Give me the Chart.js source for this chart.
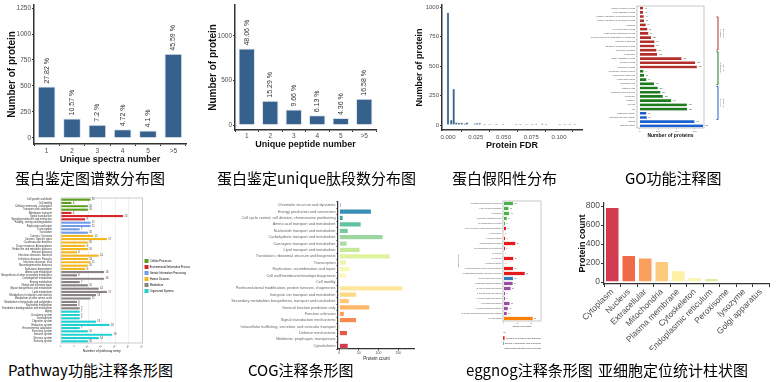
<!DOCTYPE html>
<html>
<head>
<meta charset="utf-8">
<title>蛋白组注释汇总</title>
<script src="https://cdn.jsdelivr.net/npm/chart.js@4.4.1/dist/chart.umd.min.js"></script>
<style>
html,body{margin:0;padding:0;background:#fff}
body{position:relative;width:777px;height:382px;overflow:hidden}
canvas{position:absolute}
.cap{position:absolute;font-family:"Noto Sans CJK SC","Noto Sans",sans-serif;font-size:15px;line-height:16px;color:#000;white-space:nowrap}
</style>
</head>
<body>
<canvas id="spectra" width="195" height="170" style="left:0;top:0"></canvas>
<canvas id="peptide" width="190" height="155" style="left:200px;top:0"></canvas>
<canvas id="fdr" width="197" height="155" style="left:390px;top:0"></canvas>
<canvas id="go" width="192" height="145" style="left:585px;top:0"></canvas>
<canvas id="pathway" width="200" height="164" style="left:0;top:190px"></canvas>
<canvas id="cog" width="215" height="172" style="left:200px;top:190px"></canvas>
<canvas id="eggnog" width="100" height="162" style="left:455px;top:190px"></canvas>
<canvas id="subcell" width="202" height="160" style="left:575px;top:190px"></canvas>

<div class="cap" style="left:15px;top:170px">蛋白鉴定图谱数分布图</div>
<div class="cap" style="left:217px;top:170px">蛋白鉴定unique肽段数分布图</div>
<div class="cap" style="left:452px;top:170px">蛋白假阳性分布</div>
<div class="cap" style="left:625px;top:170px">GO功能注释图</div>
<div class="cap" style="left:8px;top:362px">Pathway功能注释条形图</div>
<div class="cap" style="left:248px;top:362px">COG注释条形图</div>
<div class="cap" style="left:466px;top:362px">eggnog注释条形图</div>
<div class="cap" style="left:598px;top:362px">亚细胞定位统计柱状图</div>

<script>
// ---- 数据 ----
const 谱图类别 = ['1','2','3','4','5','>5']
const 谱图数量 = [494,188,128,84,73,810]
const 谱图比例 = ['27.82 %','10.57 %','7.2 %','4.72 %','4.1 %','45.59 %']
const 谱图刻度 = [0,250,500,750,1000,1250]

const 肽段类别 = ['1','2','3','4','5','>5']
const 肽段数量 = [859,273,173,110,78,296]
const 肽段比例 = ['48.06 %','15.29 %','9.66 %','6.13 %','4.36 %','16.58 %']
const 肽段刻度 = [0,500,1000]

const fdr值 = [0,0.003,0.0051,0.0075,0.0099,0.0123,0.015,0.0171,0.024,0.0261,0.0285,0.033,0.0375,0.0435,0.0495,0.0616,0.0652,0.0706,0.076,0.0796,0.085,0.0886,0.1006,0.1051,0.1096,0.1141]
const fdr数量 = [951,42,305,20,18,18,12,20,10,14,14,6,6,4,4,4,4,6,4,4,10,4,6,4,4,3]
const fdrY刻度 = [0,250,500,750,1000]
const fdrX刻度 = [0,0.025,0.05,0.075,0.1]

const go条目 = ['immune system process','multi-organism process','negative regulation of biological process','positive regulation of biological process','signaling','developmental process','multicellular organismal process','cellular component organization or biogenesis','response to stimulus','regulation of biological process','biological regulation','localization','single-organism process','cellular process','metabolic process','membrane-enclosed lumen','extracellular region part','extracellular region','membrane part','organelle part','macromolecular complex','membrane','organelle','cell part','cell','transporter activity','structural molecule activity','binding','catalytic activity']
const go数量 = [40,40,47,51,69,87,98,127,164,164,186,193,459,608,626,44,51,76,160,200,229,255,346,517,520,76,80,600,695]
const go组 = [0,0,0,0,0,0,0,0,0,0,0,0,0,0,0,1,1,1,1,1,1,1,1,1,1,2,2,2,2]
const go组名 = [['Biological','Process'],['Cellular','Component'],['Molecular','Function']]
const go颜色 = ['#b3302a','#1e7b1e','#1b60cf']
const go刻度 = [0,200,400,600]

const 通路类别 = ['Cell growth and death','Cell motility','Cellular community - eukaryotes','Transport and catabolism','Membrane transport','Signal transduction','Signaling molecules and interaction','Folding, sorting and degradation','Replication and repair','Transcription','Translation','Cancers: Overview','Cancers: Specific types','Cardiovascular diseases','Drug resistance: Antineoplastic','Endocrine and metabolic diseases','Immune diseases','Infectious diseases: Bacterial','Infectious diseases: Parasitic','Infectious diseases: Viral','Neurodegenerative diseases','Substance dependence','Amino acid metabolism','Biosynthesis of other secondary metabolites','Carbohydrate metabolism','Energy metabolism','Global and overview maps','Glycan biosynthesis and metabolism','Lipid metabolism','Metabolism of cofactors and vitamins','Metabolism of other amino acids','Metabolism of terpenoids and polyketides','Nucleotide metabolism','Xenobiotics biodegradation and metabolism','Aging','Circulatory system','Development','Digestive system','Endocrine system','Environmental adaptation','Excretory system','Immune system','Nervous system','Sensory system']
const 通路数量 = [11,4,10,10,4,23,9,11,11,7,10,12,17,10,9,10,6,14,10,11,10,9,16,6,16,7,10,14,17,13,11,6,6,7,7,7,7,13,18,7,10,19,14,10]
const 通路组 = [0,0,0,0,1,1,1,2,2,2,2,3,3,3,3,3,3,3,3,3,3,3,4,4,4,4,4,4,4,4,4,4,4,4,5,5,5,5,5,5,5,5,5,5]
const 通路组名 = ['Cellular Processes','Environmental Information Processing','Genetic Information Processing','Human Diseases','Metabolism','Organismal Systems']
const 通路颜色 = ['#5c9c1f','#d7262c','#6f9be8','#f2b61f','#8b8284','#20d0d0']

const cog类别 = ['Chromatin structure and dynamics','Energy production and conversion','Cell cycle control, cell division, chromosome partitioning','Amino acid transport and metabolism','Nucleotide transport and metabolism','Carbohydrate transport and metabolism','Coenzyme transport and metabolism','Lipid transport and metabolism','Translation, ribosomal structure and biogenesis','Transcription','Replication, recombination and repair','Cell wall/membrane/envelope biogenesis','Cell motility','Posttranslational modification, protein turnover, chaperones','Inorganic ion transport and metabolism','Secondary metabolites biosynthesis, transport and catabolism','General function prediction only','Function unknown','Signal transduction mechanisms','Intracellular trafficking, secretion, and vesicular transport','Defense mechanisms','Mobilome: prophages, transposons','Cytoskeleton']
const cog数量 = [5,82,10,56,23,112,20,53,130,19,28,19,2,162,44,26,78,13,44,3,21,2,23]
const cog颜色 = ['#6fa8d6','#3a8fb7','#3fa59d','#62c2a0','#78c8a2','#9bd6a0','#abdca2','#c5e89b','#dff29e','#ecf6a8','#f7fab2','#fdf8b6','#fff3b0','#fee79a','#fed985','#fdc776','#fdb566','#fb9e59','#f88a4f','#f27246','#e5574b','#dc4a4d','#d13d4f']
const cog刻度 = [0,50,100,150]

const egg类别 = ['[J] Translation, ribosomal structure and biogenesis','[A] RNA processing and modification','[K] Transcription','[L] Replication, recombination and repair','[B] Chromatin structure and dynamics','[D] Cell cycle control, cell division, chromosome partitioning','[Y] Nuclear structure','[V] Defense mechanisms','[T] Signal transduction mechanisms','[M] Cell wall/membrane/envelope biogenesis','[N] Cell motility','[Z] Cytoskeleton','[W] Extracellular structures','[U] Intracellular trafficking, secretion, and vesicular transport','[O] Posttranslational modification, protein turnover, chaperones','[C] Energy production and conversion','[G] Carbohydrate transport and metabolism','[E] Amino acid transport and metabolism','[F] Nucleotide transport and metabolism','[H] Coenzyme transport and metabolism','[I] Lipid transport and metabolism','[P] Inorganic ion transport and metabolism','[Q] Secondary metabolites biosynthesis, transport and catabolism','[S] Function unknown']
const egg数量 = [28,15,17,10,5,8,2,5,35,5,1,29,2,28,62,28,27,21,5,5,18,13,10,85]
const egg组 = [2,2,2,2,2,0,0,0,0,0,0,0,0,0,0,1,3,3,3,3,3,3,3,4]
const egg组名 = ['Cellular processes and signaling','Energy production and conversion','Information storage and processing','Metabolism','Poorly characterized']
const egg颜色 = ['#e41a1c','#377eb8','#4daf4a','#984ea3','#ff7f00']
const egg刻度 = [0,40,80]

const 亚细胞类别 = ['Cytoplasm','Nucleus','Extracellular','Mitochondria','Plasma membrane','Cytoskeleton','Endoplasmic reticulum','Peroxisome','lysozyme','Golgi apparatus']
const 亚细胞数量 = [790,285,258,222,125,52,42,12,0,0]
const 亚细胞颜色 = ['#d33c50','#ef6a47','#fb9f5e','#fdc97a','#fef0a4','#f7f7b3','#dbee9d','#a9dba6','#80c9a5','#5e9fc8']
const 亚细胞刻度 = [0,200,400,600,800]

// ---- 公共 ----
const 字体 = 'Arial, "Liberation Sans", Helvetica, sans-serif'
const 灰字 = '#4d4d4d'
const 轴线 = '#333333'
Chart.defaults.font.family = 字体
const 基础 = {responsive:false,animation:false,devicePixelRatio:1,plugins:{legend:{display:false},tooltip:{enabled:false}}}
const 定刻度 = vals => s => { s.ticks = vals.map(v=>({value:v})) }
const 原样 = v => String(v)

function 数值标签(texts, font, color, gap, rotate){
  return {id:'valueText', afterDatasetsDraw(chart){
    const ctx = chart.ctx
    ctx.save(); ctx.font = font; ctx.fillStyle = color; ctx.textBaseline = 'middle'; ctx.textAlign = 'left'
    chart.getDatasetMeta(0).data.forEach((el,i)=>{
      const t = texts[i]
      if(t===null||t===undefined) return
      if(rotate){ ctx.save(); ctx.translate(el.x, el.y-gap); ctx.rotate(-Math.PI/2); ctx.fillText(t,0,0); ctx.restore() }
      else ctx.fillText(t, el.x+gap, el.y)
    })
    ctx.restore()
  }}
}
const 边框 = color => ({id:'frame', beforeDatasetsDraw(chart){
  const a = chart.chartArea, ctx = chart.ctx
  ctx.save(); ctx.strokeStyle = color; ctx.lineWidth = 0.8; ctx.strokeRect(a.left, a.top, a.width, a.height); ctx.restore()
}})

function 竖轴线(tl){ return {grid:{display:true,drawOnChartArea:false,tickLength:tl,color:轴线,lineWidth:1},border:{display:true,color:轴线,width:1.5}} }

// ---- 1/2. 图谱数、肽段数 ----
function 数量柱图(id, cats, counts, pct, ticks, c){
  return new Chart(document.getElementById(id),{
    type:'bar',
    data:{labels:cats,datasets:[{data:counts,backgroundColor:'#35618c',borderColor:'#dbe4ee',borderWidth:1,barPercentage:0.7,categoryPercentage:1}]},
    options:{...基础,layout:{padding:{top:5,right:c.right,left:0,bottom:0}},
      scales:{
        x:{...竖轴线(2),ticks:{font:{size:6.5},color:灰字,padding:c.xtp,autoSkip:false,maxRotation:0},
          title:{display:true,text:c.xTitle,color:'#111',font:{size:9,weight:'bold'},padding:{top:0,bottom:c.xtb}},
          afterFit:s=>{s.height=c.xh}},
        y:{...竖轴线(2),min:c.min,max:c.max,afterBuildTicks:定刻度(ticks),ticks:{font:{size:6.5},color:灰字,padding:1,callback:原样},
          title:{display:true,text:'Number of protein',color:'#111',font:{size:10,weight:'bold'},padding:{top:c.ytp,bottom:0}},
          afterFit:s=>{s.width=c.yw}}
      }},
    plugins:[数值标签(pct,'7px '+字体,'#333',3,true)]
  })
}
数量柱图('spectra',谱图类别,谱图数量,谱图比例,谱图刻度,{right:9,min:-58,max:1279,yw:34,ytp:6,xh:26,xtp:1,xtb:4.6,xTitle:'Unique spectra number'})
数量柱图('peptide',肽段类别,肽段数量,肽段比例,肽段刻度,{right:14,min:-56,max:1348,yw:35,ytp:7,xh:25,xtp:0,xtb:4.6,xTitle:'Unique peptide number'})

// ---- 3. FDR ----
new Chart(document.getElementById('fdr'),{
  type:'bar',
  data:{datasets:[{data:fdr值.map((x,i)=>({x,y:fdr数量[i]})),backgroundColor:'#35618c',borderColor:'#c9d7e5',borderWidth:0.5,barThickness:2}]},
  options:{...基础,layout:{padding:{top:5,right:5,left:0,bottom:0}},
    scales:{
      x:{type:'linear',offset:false,...竖轴线(2),min:-0.0054,max:0.1207,afterBuildTicks:定刻度(fdrX刻度),
        ticks:{font:{size:6},color:灰字,padding:1.4,callback:v=>v.toFixed(3)},
        title:{display:true,text:'Protein FDR',color:'#111',font:{size:9,weight:'bold'},padding:{top:0,bottom:3.6}},
        afterFit:s=>{s.height=25}},
      y:{...竖轴线(2),min:-42,max:1017,afterBuildTicks:定刻度(fdrY刻度),ticks:{font:{size:6},color:灰字,padding:1,callback:原样},
        title:{display:true,text:'Number of protein',color:'#111',font:{size:9,weight:'bold'},padding:{top:24.6,bottom:0}},
        afterFit:s=>{s.width=52}}
    }}
})

// ---- 4. GO ----
const GO分组线 = {id:'goBracket', afterDraw(chart){
  const a = chart.chartArea, ctx = chart.ctx
  const x = a.right + 14, h = a.height*0.27, gap = a.height*0.015
  let y = a.top + a.height*0.09
  go组名.forEach((g,i)=>{
    ctx.save()
    ctx.strokeStyle = go颜色[i]; ctx.lineWidth = 1
    ctx.beginPath(); ctx.moveTo(x-1.5,y); ctx.lineTo(x,y); ctx.lineTo(x,y+h); ctx.lineTo(x-1.5,y+h); ctx.stroke()
    ctx.translate(x+4, y+h/2); ctx.rotate(Math.PI/2)
    ctx.fillStyle = '#555'; ctx.font = '2.2px '+字体; ctx.textAlign = 'center'; ctx.textBaseline = 'middle'
    g.forEach((line,k)=>ctx.fillText(line,0,(k-(g.length-1)/2)*2.6))
    ctx.restore()
    y += h + gap
  })
}}
new Chart(document.getElementById('go'),{
  type:'bar',
  data:{labels:go条目,datasets:[{data:go数量,backgroundColor:go组.map(g=>go颜色[g]),borderColor:'#fff',borderWidth:0.4,barPercentage:0.82,categoryPercentage:1}]},
  options:{...基础,indexAxis:'y',layout:{padding:{top:6,right:73,left:0,bottom:0}},
    scales:{
      x:{min:-30,max:700,afterBuildTicks:定刻度(go刻度),grid:{display:true,drawOnChartArea:false,tickLength:1.5,color:'#999',lineWidth:0.5},border:{display:false},
        ticks:{font:{size:2.4},color:灰字,padding:0.5},
        title:{display:true,text:'Number of proteins',color:'#111',font:{size:5,weight:'bold'},padding:{top:0,bottom:6.5}},
        afterFit:s=>{s.height=17}},
      y:{grid:{display:true,drawOnChartArea:false,tickLength:1,color:'#999',lineWidth:0.5},border:{display:false},
        ticks:{font:{size:2.2},color:灰字,padding:0.8,autoSkip:false},afterFit:s=>{s.width=52}}
    }},
  plugins:[边框('#bbbbbb'),数值标签(go数量.map(String),'1.8px '+字体,'#333',1.5,false),GO分组线]
})

// ---- 5. Pathway ----
new Chart(document.getElementById('pathway'),{
  type:'bar',
  data:{labels:通路类别,datasets:[{data:通路数量,backgroundColor:通路组.map(g=>通路颜色[g]),borderColor:'#fff',borderWidth:0.3,barPercentage:0.85,categoryPercentage:1}]},
  options:{...基础,indexAxis:'y',layout:{padding:{top:8,right:10,left:0,bottom:0}},
    plugins:{tooltip:{enabled:false},legend:{display:true,position:'right',align:'center',
      labels:{boxWidth:4,boxHeight:4,padding:2,color:'#333',font:{size:2.6},
        generateLabels:()=>通路组名.map((t,i)=>({text:t,fillStyle:通路颜色[i],strokeStyle:通路颜色[i],lineWidth:0,hidden:false,index:i}))}}},
    scales:{
      x:{min:0,max:30,ticks:{stepSize:2.5,font:{size:2.6},color:灰字,padding:0.5,callback:v=>v%5===0?v:''},
        grid:{display:true,color:'#e6e6e6',lineWidth:0.6,tickLength:1},border:{display:false},
        title:{display:true,text:'Number of pathway entry',color:'#222',font:{size:3.4},padding:{top:0,bottom:1}},
        afterFit:s=>{s.height=11}},
      y:{grid:{display:false},border:{display:false},ticks:{font:{size:2.6},color:'#333',padding:1,autoSkip:false},afterFit:s=>{s.width=61}}
    }},
  plugins:[边框('#bdbdbd'),数值标签(通路数量.map(String),'2.6px '+字体,'#333',1,false)]
})

// ---- 6. COG ----
new Chart(document.getElementById('cog'),{
  type:'bar',
  data:{labels:cog类别,datasets:[{data:cog数量,backgroundColor:cog颜色,borderColor:'#fff',borderWidth:0.5,barPercentage:0.82,categoryPercentage:1}]},
  options:{...基础,indexAxis:'y',layout:{padding:{top:12,right:0,left:0,bottom:0}},
    scales:{
      x:{min:-3,max:193,afterBuildTicks:定刻度(cog刻度),grid:{display:true,drawOnChartArea:false,tickLength:1.5,color:轴线},border:{display:true,color:轴线,width:1.2},
        ticks:{font:{size:3.5},color:灰字,padding:0.5},
        title:{display:true,text:'Protein count',color:'#222',font:{size:4.5},padding:{top:0,bottom:1}},
        afterFit:s=>{s.height=13}},
      y:{grid:{display:true,drawOnChartArea:false,tickLength:1.5,color:轴线},border:{display:true,color:轴线,width:1.2},
        ticks:{font:{size:3.8},color:'#666',padding:1,autoSkip:false},afterFit:s=>{s.width=138}}
    }}
})

// ---- 7. eggNOG ----
new Chart(document.getElementById('eggnog'),{
  type:'bar',
  data:{labels:egg类别,datasets:[{data:egg数量,backgroundColor:egg组.map(g=>egg颜色[g]),borderColor:'#fff',borderWidth:0.4,barPercentage:0.82,categoryPercentage:1}]},
  options:{...基础,indexAxis:'y',layout:{padding:{top:11,right:14,left:0,bottom:0}},
    plugins:{tooltip:{enabled:false},legend:{display:true,position:'bottom',fullSize:false,align:'center',maxHeight:24,
      title:{display:true,text:'Level',position:'start',color:'#333',font:{size:2.5},padding:{top:3.5,bottom:0}},
      labels:{boxWidth:2.5,boxHeight:3.5,padding:1.8,color:'#333',font:{size:2.5},
        generateLabels:()=>egg组名.map((t,i)=>({text:t,fillStyle:egg颜色[i],strokeStyle:egg颜色[i],lineWidth:0,hidden:false,index:i}))}}},
    scales:{
      x:{min:-2,max:108,afterBuildTicks:定刻度(egg刻度),grid:{display:true,drawOnChartArea:false,tickLength:1,color:'#999',lineWidth:0.5},border:{display:false},
        ticks:{font:{size:1.6},color:灰字,padding:0.3},
        title:{display:true,text:'Number of proteins',color:'#222',font:{size:2.2},padding:{top:0,bottom:0.5}},
        afterFit:s=>{s.height=7}},
      y:{grid:{display:true,drawOnChartArea:false,tickLength:0.8,color:'#999',lineWidth:0.5},border:{display:false},
        ticks:{font:{size:1.4},color:灰字,padding:0.6,autoSkip:false},
        title:{display:true,text:'Function class',color:'#333',font:{size:2},padding:{top:1.8,bottom:0}},
        afterFit:s=>{s.width=48}}
    }},
  plugins:[边框('#bbbbbb'),数值标签(egg数量.map(String),'1.6px '+字体,'#333',1.2,false)]
})

// ---- 8. 亚细胞定位 ----
new Chart(document.getElementById('subcell'),{
  type:'bar',
  data:{labels:亚细胞类别,datasets:[{data:亚细胞数量,backgroundColor:亚细胞颜色,borderColor:'#fff',borderWidth:1,barPercentage:0.88,categoryPercentage:1}]},
  options:{...基础,layout:{padding:{top:13,right:8,left:0,bottom:0}},
    scales:{
      x:{grid:{display:true,drawOnChartArea:false,tickLength:3,color:轴线},border:{display:true,color:轴线,width:1.2},
        ticks:{font:{size:8.5},color:灰字,padding:0,autoSkip:false,minRotation:45,maxRotation:45},
        afterFit:s=>{s.height=66}},
      y:{min:-21,max:832,afterBuildTicks:定刻度(亚细胞刻度),grid:{display:true,drawOnChartArea:false,tickLength:3,color:轴线},border:{display:true,color:轴线,width:1.2},
        ticks:{font:{size:8.5},color:灰字,padding:1},
        title:{display:true,text:'Protein count',color:'#111',font:{size:9,weight:'bold'},padding:{top:2.6,bottom:0}},
        afterFit:s=>{s.width=29}}
    }}
})
</script>
</body>
</html>
